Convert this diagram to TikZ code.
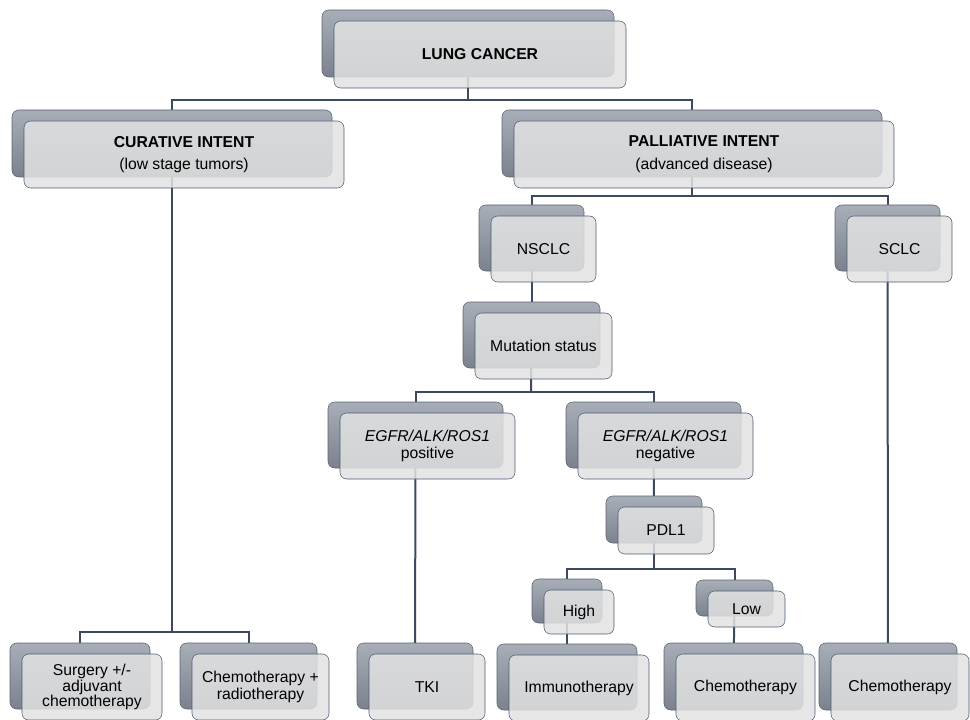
\documentclass[tikz,border=0pt]{standalone}
\usepackage{fontspec}
\setmainfont{Liberation Sans}
\usetikzlibrary{backgrounds}
\definecolor{backtop}{HTML}{A8AEB7}
\definecolor{backbot}{HTML}{7B828E}
\definecolor{backline}{HTML}{5C6470}
\definecolor{frontfill}{HTML}{E2E2E2}
\definecolor{frontline}{HTML}{4A5B73}
\definecolor{linkcol}{HTML}{3B4A5F}
\tikzstyle{backbox} = [draw=backline, top color=backtop, bottom color=backbot,
rectangle, rounded corners=5pt, inner sep=0pt]
\tikzstyle{frontbox} = [draw=frontline, fill=frontfill, fill opacity=0.85, text opacity=1,
rectangle, rounded corners=5pt, inner sep=0pt, align=center,
font=\fontsize{11.8}{12.5}\selectfont]
\tikzstyle{link} = [draw=linkcol, line width=1.5pt]
% a grey block behind, a light block in front (name, left, top, width, height, text)
\newcommand{\pairbox}[6]{%
\node [backbox, minimum width=#4*0.75pt, minimum height=#5*0.75pt] (#1b) at (#2+#4/2, #3+#5/2) {};
\node [frontbox, minimum width=#4*0.75pt, minimum height=#5*0.75pt] (#1) at (#2+#4/2+12, #3+#5/2+11) {#6};
}

\begin{document}
\begin{tikzpicture}[x=0.75pt, y=-0.75pt]
\useasboundingbox (0,0) rectangle (970,720);

% We start by placing the blocks, top to bottom
\pairbox{lung}{322}{10}{292}{67}{\textbf{LUNG CANCER}}
\pairbox{cur}{12}{110}{320}{67}{\textbf{CURATIVE INTENT}\\[4pt](low stage tumors)}
\pairbox{pal}{502}{110}{380}{67}{\textbf{PALLIATIVE INTENT}\\[5pt](advanced disease)}
\pairbox{nsclc}{479}{205}{105}{66}{NSCLC}
\pairbox{sclc}{835}{205}{105}{66}{SCLC}
\pairbox{mut}{463}{302}{137}{66}{Mutation status}
\pairbox{pos}{328}{402}{175}{66}{\textit{EGFR/ALK/ROS1}\\positive}
\pairbox{neg}{566}{402}{175}{66}{\textit{EGFR/ALK/ROS1}\\negative}
\pairbox{pdl}{606}{496}{96}{47}{PDL1}
\pairbox{high}{532}{579}{70}{44}{High}
\pairbox{low}{696}{580}{77}{36}{Low}
\pairbox{surg}{10}{643}{140}{66}{Surgery +/-\\[-1pt]adjuvant\\[-1pt]chemotherapy}
\pairbox{crad}{180}{643}{137}{66}{Chemotherapy +\\radiotherapy}
\pairbox{tki}{357}{643}{116}{66}{TKI}
\pairbox{immuno}{497}{644}{140}{66}{Immunotherapy}
\pairbox{chemoa}{664}{643}{139}{67}{Chemotherapy}
\pairbox{chemob}{819}{643}{138}{67}{Chemotherapy}

% junctions where a line splits in two
\coordinate (jlung) at (468,100);
\coordinate (jpal) at (692,196);
\coordinate (jmut) at (531,392);
\coordinate (jpdl) at (654,569);
\coordinate (jcur) at (172,632);

% Once the blocks are placed, the lines go behind them
\begin{pgfonlayer}{background}
\draw [link] (lungb.center) -- (jlung);
\draw [link] (curb.center) |- (jlung) -| (palb.center);
\draw [link] (palb.center) -- (jpal);
\draw [link] (nsclcb.center) |- (jpal) -| (sclcb.center);
\draw [link] (nsclcb.center) -- (mutb.center);
\draw [link] (mutb.center) -- (jmut);
\draw [link] (posb.center) |- (jmut) -| (negb.center);
\draw [link] (negb.center) -- (pdlb.center);
\draw [link] (pdlb.center) -- (jpdl);
\draw [link] (highb.center) |- (jpdl) -| (lowb.center);
\draw [link] (highb.center) -- (immunob.center);
\draw [link] (lowb.center) -- (chemoab.center);
\draw [link] (posb.center) -- (tkib.center);
\draw [link] (sclcb.center) -- (chemobb.center);
\draw [link] (curb.center) -- (jcur);
\draw [link] (surgb.center) |- (jcur) -| (cradb.center);
\end{pgfonlayer}
\end{tikzpicture}
\end{document}
